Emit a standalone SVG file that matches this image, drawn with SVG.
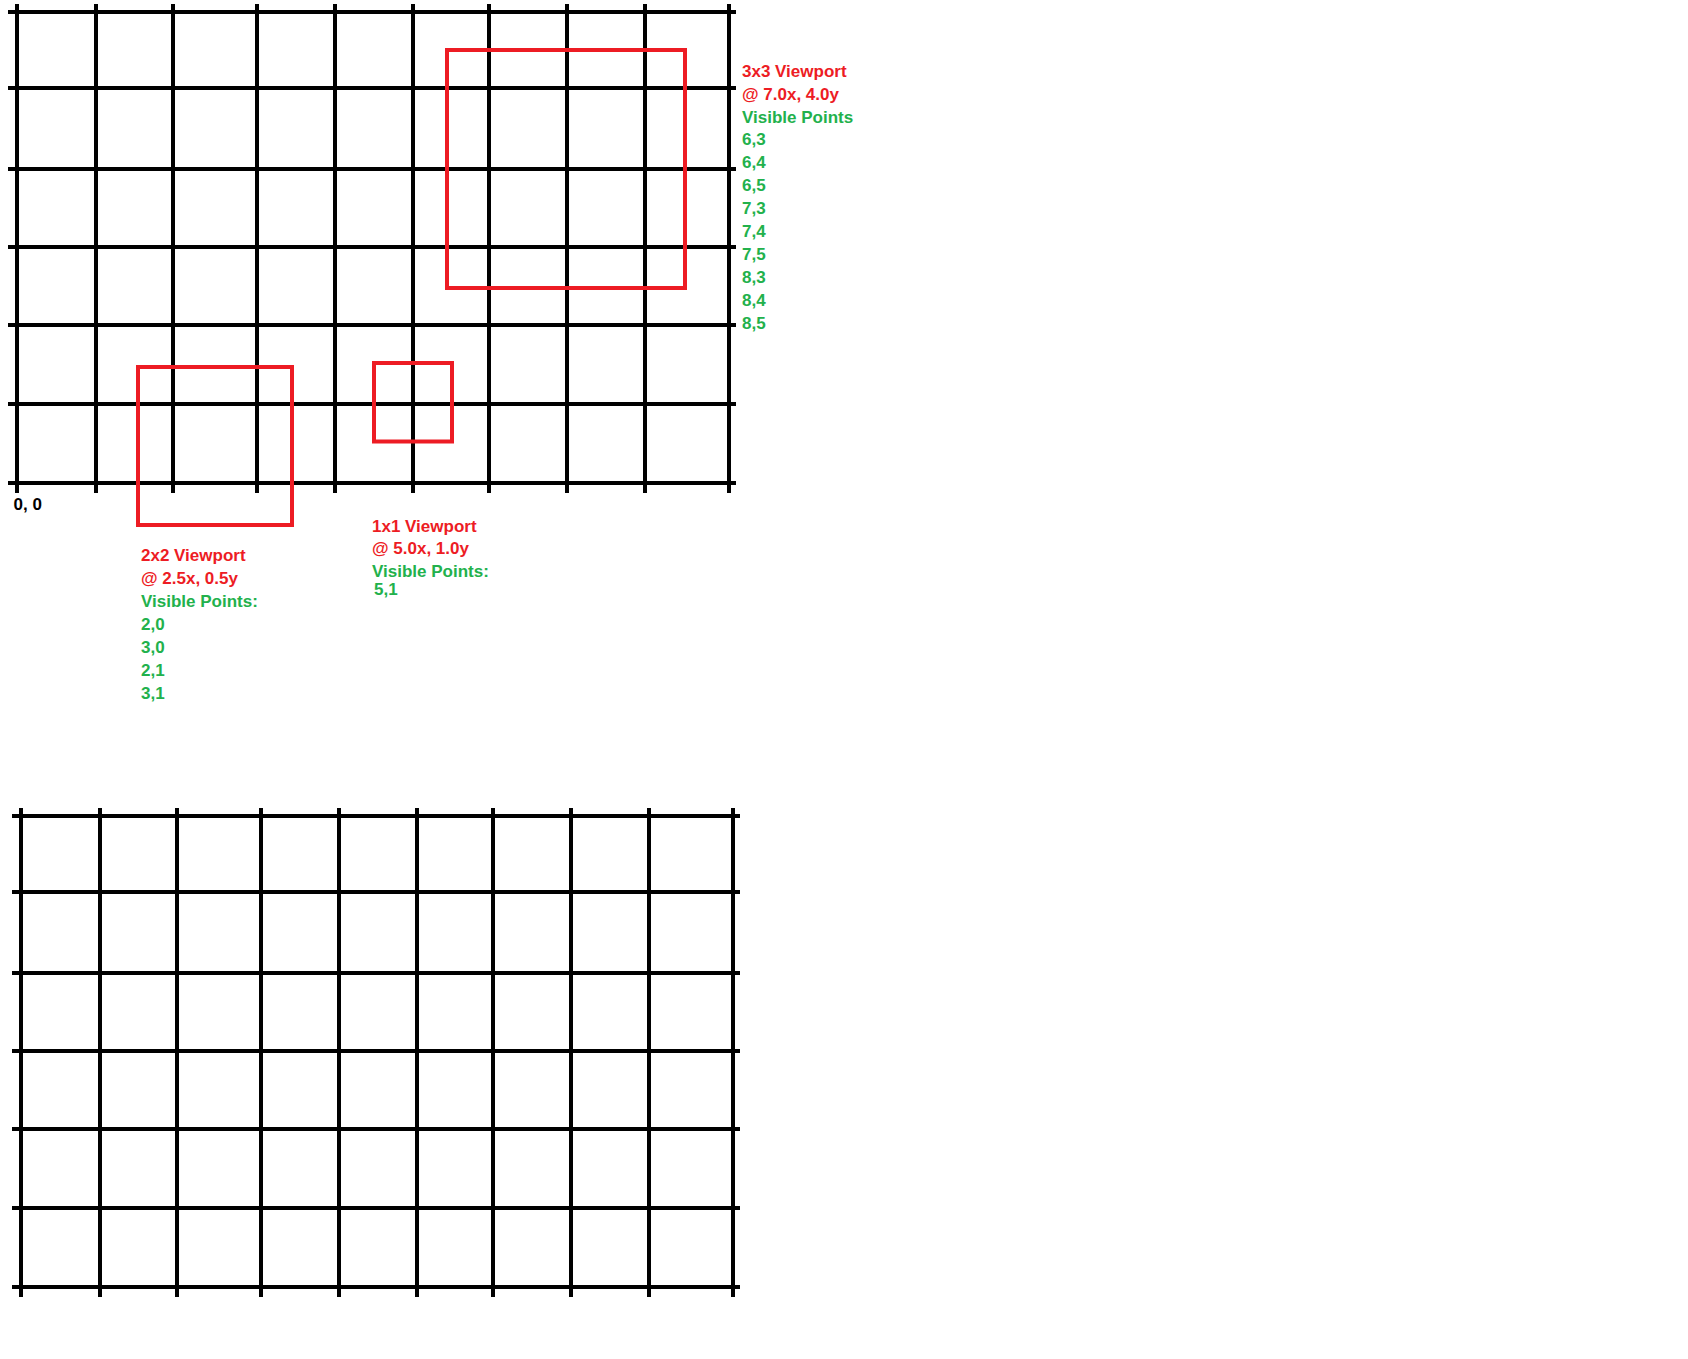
<svg xmlns="http://www.w3.org/2000/svg" xmlns:xlink="http://www.w3.org/1999/xlink" width="1688" height="1359" viewBox="0 0 1688 1359">
<style>
.grid{stroke:#000;stroke-width:4;fill:none}
.vp{stroke:#ED1C24;stroke-width:4;fill:none}
text{font-family:"Liberation Sans",Arial,sans-serif;font-weight:bold;font-size:17px}
.r{fill:#ED1C24}
.g{fill:#22B14C}
.k{fill:#000}
</style>
<rect x="0" y="0" width="1688" height="1359" fill="#fff"/>
<defs>
<g id="gridshape">
<path class="grid" d="M8 12H736M8 88H736M8 169H736M8 247H736M8 325H736M8 404H736M8 483H736"/>
<path class="grid" d="M17 4V493M96 4V493M173 4V493M257 4V493M335 4V493M413 4V493M489 4V493M567 4V493M645 4V493M729 4V493"/>
</g>
</defs>
<g id="grid-top"><use xlink:href="#gridshape" href="#gridshape"/></g>
<g id="grid-bottom"><use xlink:href="#gridshape" href="#gridshape" transform="translate(4,804)"/></g>
<g id="origin-label"><text class="k" x="13.5" y="510">0, 0</text></g>
<g id="viewport-3x3">
<rect class="vp" x="447" y="50" width="238" height="238"/>
<text x="742" y="76.7"><tspan class="r" x="742" y="76.7">3x3 Viewport</tspan><tspan class="r" x="742" y="99.6">@ 7.0x, 4.0y</tspan><tspan class="g" x="742" y="122.5">Visible Points</tspan><tspan class="g" x="742" y="145.4">6,3</tspan><tspan class="g" x="742" y="168.3">6,4</tspan><tspan class="g" x="742" y="191.2">6,5</tspan><tspan class="g" x="742" y="214.1">7,3</tspan><tspan class="g" x="742" y="237">7,4</tspan><tspan class="g" x="742" y="259.9">7,5</tspan><tspan class="g" x="742" y="282.8">8,3</tspan><tspan class="g" x="742" y="305.7">8,4</tspan><tspan class="g" x="742" y="328.6">8,5</tspan></text>
</g>
<g id="viewport-2x2">
<rect class="vp" x="138" y="367" width="154" height="158"/>
<text x="141" y="560.7"><tspan class="r" x="141" y="560.7">2x2 Viewport</tspan><tspan class="r" x="141" y="583.6">@ 2.5x, 0.5y</tspan><tspan class="g" x="141" y="606.5">Visible Points:</tspan><tspan class="g" x="141" y="629.5">2,0</tspan><tspan class="g" x="141" y="652.5">3,0</tspan><tspan class="g" x="141" y="675.5">2,1</tspan><tspan class="g" x="141" y="698.5">3,1</tspan></text>
</g>
<g id="viewport-1x1">
<rect class="vp" x="374" y="363" width="78" height="78.5"/>
<text x="372" y="531.5"><tspan class="r" x="372" y="531.5">1x1 Viewport</tspan><tspan class="r" x="372" y="554.3">@ 5.0x, 1.0y</tspan><tspan class="g" x="372" y="577">Visible Points:</tspan><tspan class="g" x="374" y="594.5">5,1</tspan></text>
</g>
<g id="connectors"/>
</svg>
